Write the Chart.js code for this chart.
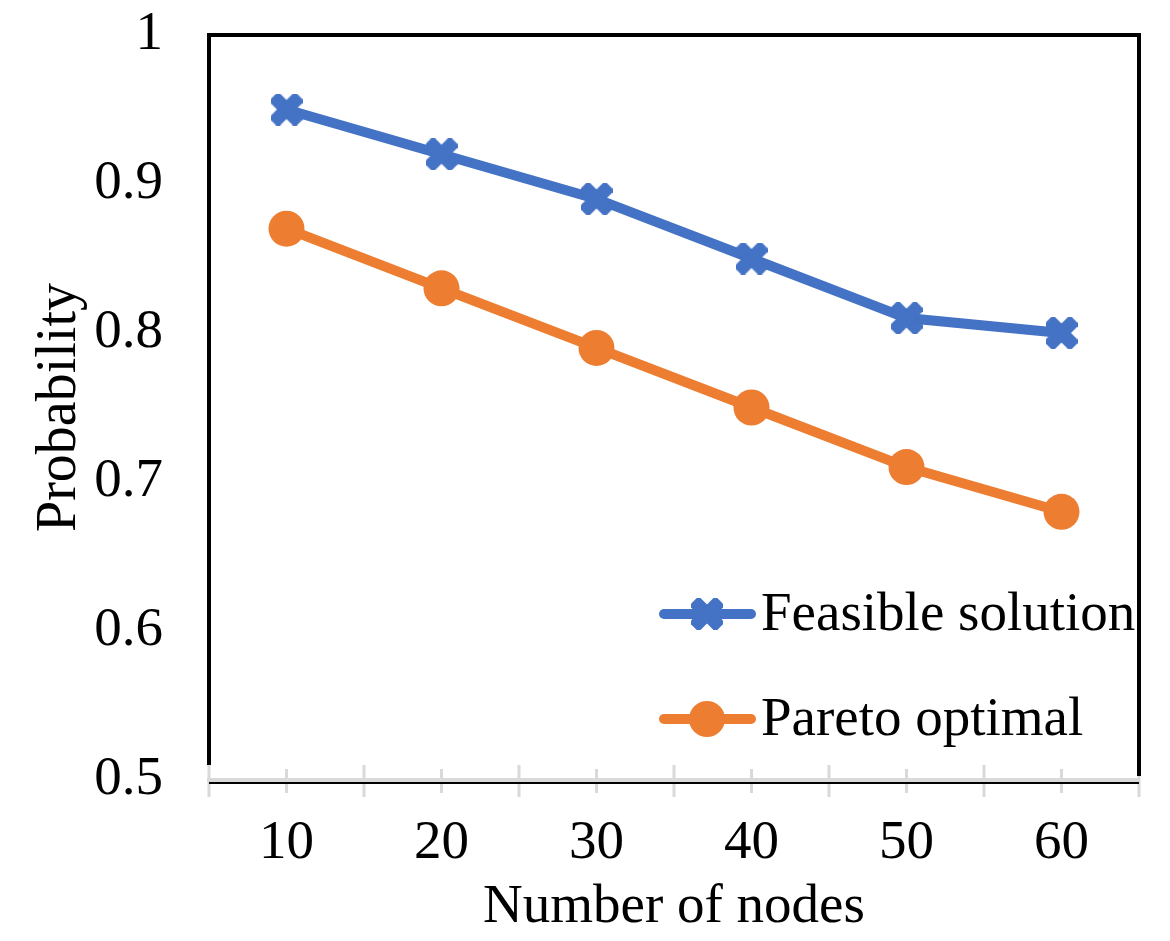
<!DOCTYPE html>
<html>
<head>
<meta charset="utf-8">
<script src="https://cdn.jsdelivr.net/npm/chart.js@4.4.0/dist/chart.umd.min.js"></script>
<style>
  html, body { margin: 0; padding: 0; background: #fff; }
  #wrap { width: 1170px; height: 941px; }
</style>
</head>
<body>
<div id="wrap"><canvas id="chart" width="1170" height="941"></canvas></div>
<script>
// chart data
const nodes = ["10", "20", "30", "40", "50", "60"];
const feasibleSolution = [0.95, 0.92, 0.89, 0.85, 0.81, 0.80];
const paretoOptimal = [0.87, 0.83, 0.79, 0.75, 0.71, 0.68];
const seriesNames = ["Feasible solution", "Pareto optimal"];
const yMin = 0.5, yMax = 1, yStep = 0.1;

const BLUE = "#4472C4";
const ORANGE = "#ED7D31";
const FONT = "'Liberation Serif', 'Times New Roman', serif";

// thick "X" marker like the Excel one
function makeCross(size, color) {
    const c = document.createElement("canvas");
    c.width = size; c.height = size;
    const ctx = c.getContext("2d");
    ctx.fillStyle = color;
    ctx.translate(size / 2, size / 2);
    const arm = size * 0.42;
    for (let a of [Math.PI / 4, -Math.PI / 4]) {
        ctx.save();
        ctx.rotate(a);
        ctx.fillRect(-size * 0.58, -arm / 2, size * 1.16, arm);
        ctx.restore();
    }
    return c;
}
const crossMarker = makeCross(32, BLUE);

// plot border, crossing ticks and in-plot legend
const framePlugin = {
    id: "frame",
    afterDraw(chart) {
        const ctx = chart.ctx;
        const a = chart.chartArea;
        const xs = chart.scales.x;
        ctx.save();
        // grey crossing ticks on x axis
        ctx.strokeStyle = "#d9d9d9";
        ctx.lineWidth = 3;
        const n = nodes.length;
        for (let i = 0; i <= n; i++) {
            const px = i === 0 ? a.left : (i === n ? a.right : (xs.getPixelForValue(i - 1) + xs.getPixelForValue(i)) / 2);
            ctx.beginPath();
            ctx.moveTo(px, a.bottom - 15);
            ctx.lineTo(px, a.bottom + 17);
            ctx.stroke();
        }
        for (let i = 0; i < n; i++) {
            const px = xs.getPixelForValue(i);
            ctx.beginPath();
            ctx.moveTo(px, a.bottom - 11);
            ctx.lineTo(px, a.bottom + 13);
            ctx.stroke();
        }
        // black frame
        ctx.strokeStyle = "#000";
        ctx.lineWidth = 4;
        ctx.beginPath();
        ctx.moveTo(a.left, a.bottom - 15);
        ctx.lineTo(a.left, a.top);
        ctx.lineTo(a.right, a.top);
        ctx.lineTo(a.right, a.bottom - 4);
        ctx.stroke();
        ctx.lineWidth = 2;
        ctx.beginPath();
        ctx.moveTo(a.left, a.bottom + 3);
        ctx.lineTo(a.right, a.bottom + 3);
        ctx.stroke();

        // legend
        const lx = a.left + 450;
        const rows = [a.top + 579, a.top + 684];
        chart.data.datasets.forEach((ds, i) => {
            const y = rows[i];
            ctx.strokeStyle = ds.borderColor;
            ctx.lineWidth = 10;
            ctx.lineCap = "round";
            ctx.beginPath();
            ctx.moveTo(lx + 5, y);
            ctx.lineTo(lx + 92, y);
            ctx.stroke();
            if (ds.pointStyle === "circle") {
                ctx.fillStyle = ds.pointBackgroundColor;
                ctx.beginPath();
                ctx.arc(lx + 48, y, ds.pointRadius, 0, Math.PI * 2);
                ctx.fill();
            } else {
                ctx.drawImage(ds.pointStyle, lx + 48 - ds.pointStyle.width / 2, y - ds.pointStyle.height / 2);
            }
            ctx.fillStyle = "#000";
            ctx.font = "55px " + FONT;
            ctx.textBaseline = "middle";
            ctx.textAlign = "left";
            ctx.fillText(ds.label, lx + 102, y + 2);
        });
        ctx.restore();
    }
};

new Chart(document.getElementById("chart").getContext("2d"), {
    type: "line",
    data: {
        labels: nodes,
        datasets: [{
            label: seriesNames[0],
            data: feasibleSolution,
            borderColor: BLUE,
            backgroundColor: BLUE,
            borderWidth: 10,
            pointStyle: crossMarker,
            pointRadius: 16,
            tension: 0
        }, {
            label: seriesNames[1],
            data: paretoOptimal,
            borderColor: ORANGE,
            backgroundColor: ORANGE,
            pointBackgroundColor: ORANGE,
            borderWidth: 10,
            pointStyle: "circle",
            pointRadius: 18,
            pointBorderWidth: 0,
            tension: 0
        }]
    },
    options: {
        responsive: false,
        animation: false,
        layout: { padding: { top: 35, right: 31, left: 0, bottom: 0 } },
        plugins: {
            legend: { display: false },
            tooltip: { enabled: false }
        },
        scales: {
            x: {
                offset: true,
                grid: { display: false, drawTicks: false },
                border: { display: true, color: "#d9d9d9", width: 4 },
                ticks: { color: "#000", font: { family: FONT, size: 55 }, padding: 31 },
                title: { display: true, text: "Number of nodes", color: "#000", font: { family: FONT, size: 55 }, padding: { top: 0, bottom: 0 } },
                afterFit(s) { s.height = 161; s.paddingLeft = 0; s.paddingRight = 0; }
            },
            y: {
                min: yMin,
                max: yMax,
                ticks: {
                    stepSize: yStep, color: "#000", font: { family: FONT, size: 55 }, padding: 46,
                    callback: v => String(Number(v.toFixed(1)))
                },
                grid: { display: false, drawTicks: false },
                border: { display: false },
                title: { display: true, text: "Probability", color: "#000", font: { family: FONT, size: 56 }, padding: { top: 27, bottom: 0 } },
                afterFit(s) { s.width = 209; s.paddingTop = 0; s.paddingBottom = 0; }
            }
        }
    },
    plugins: [framePlugin]
});
</script>
</body>
</html>
